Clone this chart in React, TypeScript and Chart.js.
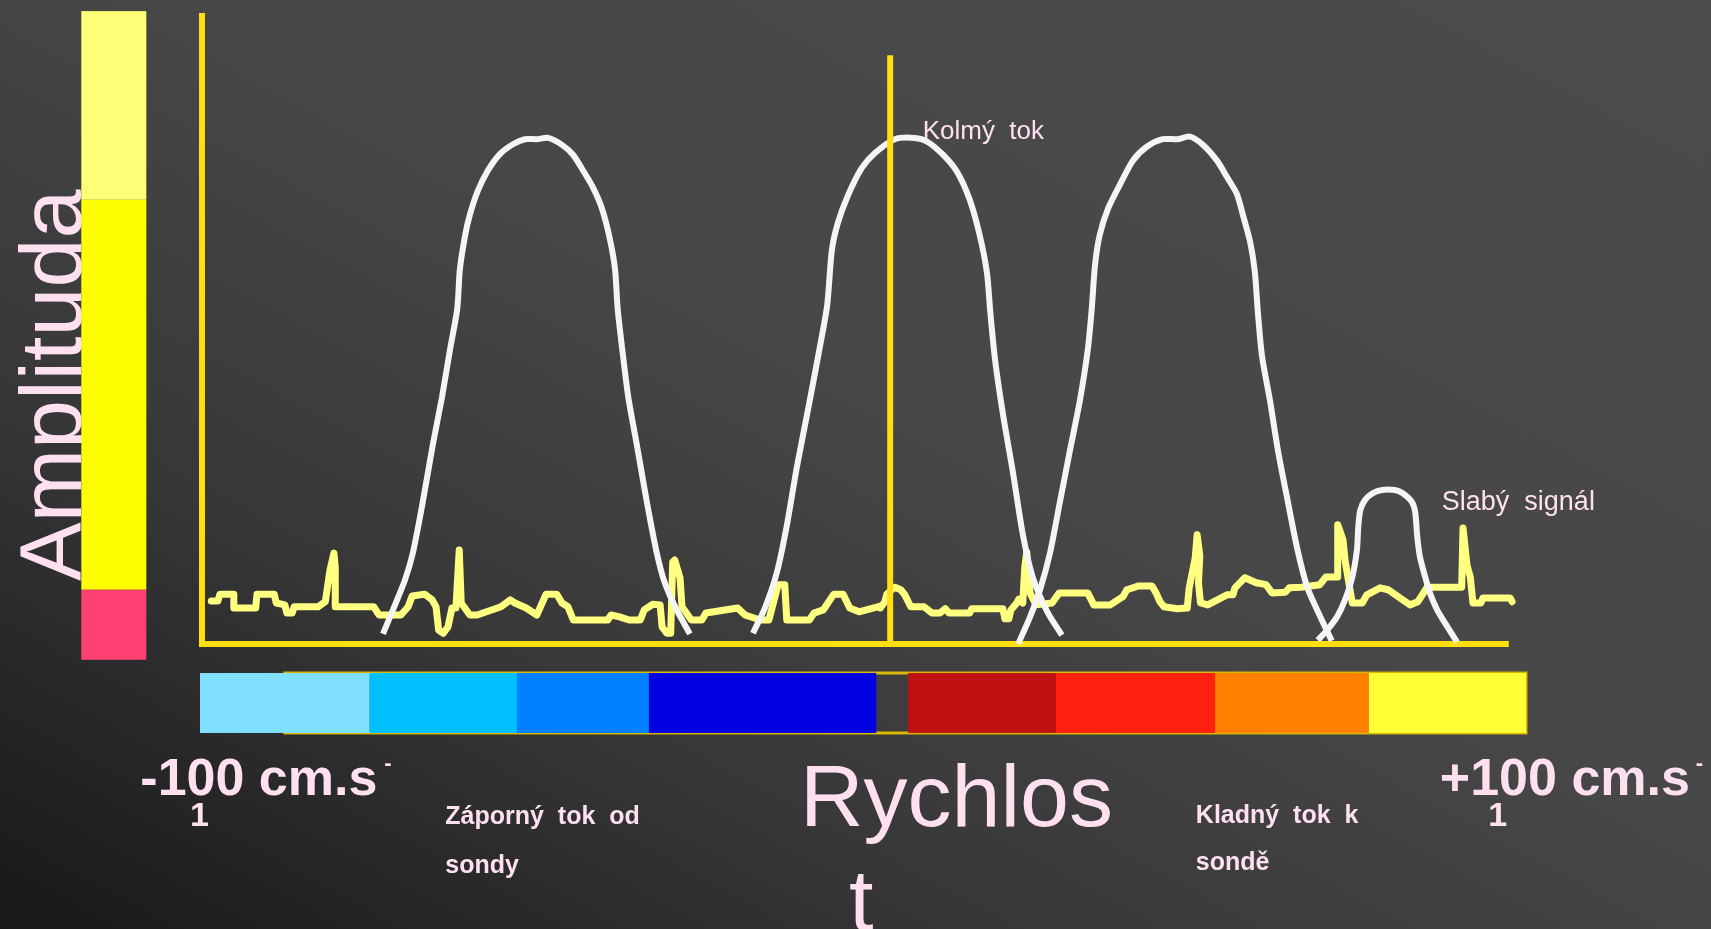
import { useEffect, useRef } from "react";
import { Chart, registerables } from "chart.js";

Chart.register(...registerables);

type P = [number, number];

// x = velocity (cm/s, -100..+100), y = relative amplitude (0..100)
const curveNegative: P[] = [
  [-72.4, 1.6], [-70.9, 5.4], [-69.1, 10.1], [-67.9, 14.4], [-66.4, 22.5], [-64.9, 31.5], [-63.5, 39.1],
  [-62.3, 46.6], [-61.2, 53.1], [-60.8, 59.4], [-60.0, 64.8], [-59.3, 68.0], [-58.1, 71.8], [-56.6, 75.0],
  [-54.8, 77.6], [-52.8, 79.2], [-51.0, 80.0], [-49.2, 80.0], [-47.5, 80.2], [-45.4, 79.1], [-43.7, 77.5],
  [-42.2, 75.0], [-40.7, 72.3], [-39.4, 69.1], [-38.2, 64.3], [-37.4, 59.4], [-37.0, 53.1], [-36.3, 46.6],
  [-35.4, 39.1], [-34.1, 31.5], [-32.6, 22.5], [-31.1, 14.4], [-29.9, 9.7], [-28.1, 5.4], [-26.1, 1.6],
];

const curvePerpendicular: P[] = [
  [-16.6, 1.7], [-14.8, 5.7], [-13.0, 11.3], [-11.5, 18.7], [-10.0, 27.9], [-8.3, 37.1], [-6.5, 47.1],
  [-5.4, 53.7], [-4.7, 62.4], [-3.8, 66.7], [-2.3, 71.0], [-0.2, 75.4], [1.8, 77.8], [4.8, 80.0],
  [7.8, 80.2], [9.7, 79.6], [12.1, 77.5], [14.2, 74.8], [16.1, 70.4], [17.6, 64.8], [18.7, 58.8],
  [19.2, 52.6], [19.9, 45.2], [21.1, 36.5], [22.6, 27.3], [24.1, 17.4], [25.6, 10.6], [27.8, 5.1], [30.0, 1.4],
];

const curvePositive: P[] = [
  [23.4, 0.0], [25.2, 4.3], [26.7, 8.6], [28.2, 14.4], [29.7, 22.5], [31.2, 30.6], [32.7, 38.5],
  [33.9, 46.6], [34.5, 53.1], [35.0, 60.1], [35.7, 64.8], [37.0, 69.1], [38.8, 72.9], [40.7, 76.6],
  [42.8, 78.8], [45.2, 80.0], [47.4, 80.0], [49.3, 80.4], [51.3, 79.1], [53.4, 76.6], [54.9, 74.0],
  [56.4, 71.3], [57.3, 68.0], [58.4, 63.7], [59.1, 59.0], [59.6, 52.0], [60.2, 45.5], [61.4, 38.5],
  [62.6, 30.6], [64.0, 23.0], [65.5, 15.1], [67.0, 9.0], [68.5, 5.4], [70.7, 0.5],
];

const curveWeak: P[] = [
  [68.6, 0.6], [70.0, 2.2], [71.5, 4.3], [72.7, 7.0], [73.8, 10.6], [74.5, 14.9], [74.7, 18.5],
  [75.0, 21.2], [75.7, 22.8], [76.9, 23.9], [78.3, 24.4], [80.2, 24.4], [81.4, 23.9], [82.8, 22.5],
  [83.3, 20.8], [83.6, 17.0], [84.0, 13.8], [84.8, 10.6], [85.5, 8.1], [86.6, 5.4], [87.8, 3.3], [89.6, 0.3],
];

const noiseTrace: P[] = [
  [-98.3, 6.8], [-97.3, 6.8], [-97.0, 7.9], [-94.9, 7.9], [-94.9, 5.7], [-91.6, 5.7], [-91.4, 7.9],
  [-88.8, 7.9], [-88.5, 6.5], [-87.2, 6.2], [-86.9, 4.9], [-86.1, 4.9], [-85.8, 5.9], [-82.2, 5.9],
  [-81.1, 6.7], [-80.4, 11.7], [-79.8, 14.4], [-79.6, 12.2], [-79.6, 5.9], [-73.8, 5.9], [-73.0, 4.6],
  [-69.7, 4.6], [-68.6, 5.9], [-68.0, 7.6], [-66.1, 7.9], [-65.0, 7.0], [-64.4, 5.9], [-64.0, 2.2],
  [-63.3, 1.7], [-62.6, 2.7], [-62.0, 5.7], [-61.4, 5.7], [-60.9, 14.9], [-60.6, 6.5], [-59.3, 4.6],
  [-58.2, 4.6], [-54.6, 5.9], [-53.2, 7.0], [-52.5, 6.5], [-50.8, 5.7], [-49.2, 4.6], [-47.8, 7.9],
  [-46.2, 7.9], [-45.4, 6.5], [-44.5, 5.9], [-43.7, 3.8], [-43.1, 3.8], [-38.5, 3.8], [-38.0, 4.6],
  [-36.7, 4.3], [-35.3, 3.8], [-33.6, 3.8], [-33.0, 5.4], [-31.7, 6.3], [-30.6, 6.2], [-30.3, 2.7],
  [-29.6, 1.7], [-29.0, 1.7], [-28.7, 13.0], [-28.4, 13.3], [-27.6, 10.5], [-27.3, 5.9], [-25.9, 3.8],
  [-24.3, 3.8], [-23.7, 4.9], [-18.9, 5.7], [-17.8, 4.6], [-15.5, 3.8], [-14.2, 3.8], [-12.8, 9.4],
  [-11.8, 9.4], [-11.5, 3.8], [-8.1, 3.8], [-7.4, 4.9], [-6.0, 5.4], [-4.4, 7.9], [-3.0, 7.9],
  [-2.0, 5.7], [-0.6, 5.1], [2.6, 6.0], [2.6, 5.7], [3.3, 6.7], [3.6, 7.9], [4.8, 9.0], [5.7, 8.6],
  [6.3, 7.8], [7.2, 5.9], [9.2, 5.9], [10.4, 4.9], [11.6, 4.9], [12.4, 5.6], [13.0, 4.9], [16.1, 4.9],
  [16.4, 5.6], [21.1, 5.6], [21.4, 4.0], [22.0, 4.0], [22.3, 5.4], [23.2, 6.5], [23.5, 7.1], [24.1, 6.5],
  [24.4, 12.2], [24.7, 14.6], [25.2, 8.1], [26.1, 6.2], [28.5, 6.5], [29.6, 8.1], [33.9, 8.1],
  [34.8, 6.2], [37.3, 6.2], [39.2, 7.5], [39.8, 8.6], [41.6, 9.2], [43.6, 9.2], [44.2, 8.1], [44.8, 6.7],
  [45.4, 5.9], [47.4, 5.6], [48.9, 5.7], [49.2, 8.9], [50.1, 13.6], [50.4, 17.3], [50.8, 14.0],
  [50.6, 9.7], [50.9, 6.5], [52.0, 6.2], [54.9, 7.8], [55.8, 7.8], [56.1, 8.9], [57.6, 10.5],
  [59.3, 9.7], [60.8, 9.4], [61.7, 8.1], [63.7, 8.2], [64.3, 8.9], [66.1, 9.0], [68.9, 9.4],
  [69.8, 10.6], [71.6, 10.6], [71.6, 18.9], [72.4, 16.5], [72.7, 13.3], [73.8, 6.5], [75.3, 6.5],
  [76.0, 7.8], [78.0, 8.9], [79.2, 8.6], [82.5, 6.2], [83.7, 6.7], [85.1, 9.0], [87.0, 9.0],
  [90.3, 9.0], [90.5, 18.4], [91.1, 12.5], [91.6, 10.6], [92.0, 6.5], [93.2, 6.5], [93.5, 7.3],
  [97.6, 7.3], [97.9, 6.7],
];

const axisFrame: P[] = [[-99.7, 100], [-99.7, 0], [97.4, 0]];
const perpendicularMarker: P[] = [[4.1, 93.3], [4.1, 0]];

// colour scale bar: velocity segments
const colorBarStart = [-100, -74.4, -52.2, -32.3, 6.8, 29.1, 53.1, 76.3];
const colorBarEnd = [-74.4, -50.2, -30.2, 2.0, 29.1, 53.1, 76.3, 100];
const colorBarColors = ["#80e0ff", "#00c0ff", "#0080ff", "#0000e0", "#c01010", "#ff2010", "#ff8000", "#ffff33"];
const colorBarOutline = [-87.2, 100];
const colorBarLevel = [-4.6, -14.1];

// amplitude bar: level bands
const ampBarTop = [100.3, 70.4, 8.6];
const ampBarBottom = [70.4, 8.6, -2.5];
const ampBarColors = ["#ffff77", "#ffff00", "#ff4070"];
const ampBarVelocity = [-117.9, -108.1];

const FONT = '"Liberation Sans", Arial, sans-serif';
const TEXT = "#ffe0f0";

const axisTitle = { text: "Amplituda", v: -117.9, a: 41.0, font: `88px ${FONT}` };

const annotations = [
  { text: "Kolmý  tok", v: 9.0, a: 80.0, font: `26px ${FONT}` },
  { text: "Slabý  signál", v: 87.3, a: 21.2, font: `27px ${FONT}` },
  { text: "-100 cm.s", v: -109.0, a: -23.9, font: `bold 52px ${FONT}` },
  { text: "-", v: -72.2, a: -20.0, font: `bold 22px ${FONT}` },
  { text: "1", v: -101.5, a: -28.8, font: `bold 34px ${FONT}` },
  { text: "+100 cm.s", v: 87.0, a: -23.9, font: `bold 52px ${FONT}` },
  { text: "-", v: 125.6, a: -20.0, font: `bold 22px ${FONT}` },
  { text: "1", v: 94.3, a: -28.8, font: `bold 34px ${FONT}` },
  { text: "Záporný  tok  od", v: -63.0, a: -28.5, font: `bold 25px ${FONT}` },
  { text: "sondy", v: -63.0, a: -36.3, font: `bold 25px ${FONT}` },
  { text: "Rychlos", v: -9.5, a: -28.8, font: `88px ${FONT}` },
  { text: "t", v: -2.1, a: -45.3, font: `88px ${FONT}` },
  { text: "Kladný  tok  k", v: 50.2, a: -28.4, font: `bold 25px ${FONT}` },
  { text: "sondě", v: 50.2, a: -35.8, font: `bold 25px ${FONT}` },
];

const toXY = (pts: P[]) => pts.map(([x, y]) => ({ x, y }));

const decorPlugin = {
  id: "decor",
  beforeDatasetsDraw(chart: any) {
    const { ctx } = chart;
    const xs = chart.scales.x;
    const ys = chart.scales.y;
    ctx.save();
    // vertical axis title (under the amplitude bar)
    ctx.save();
    ctx.fillStyle = TEXT;
    ctx.font = axisTitle.font;
    ctx.textAlign = "center";
    ctx.textBaseline = "alphabetic";
    ctx.translate(xs.getPixelForValue(axisTitle.v), ys.getPixelForValue(axisTitle.a));
    ctx.rotate(-Math.PI / 2);
    ctx.fillText(axisTitle.text, 0, 0);
    ctx.restore();
    // colour bar outline
    const ox1 = xs.getPixelForValue(colorBarOutline[0]);
    const ox2 = xs.getPixelForValue(colorBarOutline[1]);
    const oy1 = ys.getPixelForValue(colorBarLevel[0]);
    const oy2 = ys.getPixelForValue(colorBarLevel[1]);
    ctx.strokeStyle = "#d8b800";
    ctx.lineWidth = 3;
    ctx.strokeRect(ox1, oy1, ox2 - ox1, oy2 - oy1);
    for (let i = 0; i < colorBarColors.length; i++) {
      const x1 = xs.getPixelForValue(colorBarStart[i]);
      const x2 = xs.getPixelForValue(colorBarEnd[i]);
      ctx.fillStyle = colorBarColors[i];
      ctx.fillRect(x1, oy1, x2 - x1, oy2 - oy1);
    }
    // amplitude bar
    const ax1 = xs.getPixelForValue(ampBarVelocity[0]);
    const ax2 = xs.getPixelForValue(ampBarVelocity[1]);
    for (let i = 0; i < ampBarColors.length; i++) {
      const y1 = ys.getPixelForValue(ampBarTop[i]);
      const y2 = ys.getPixelForValue(ampBarBottom[i]);
      ctx.fillStyle = ampBarColors[i];
      ctx.fillRect(ax1, y1, ax2 - ax1, y2 - y1);
    }
    ctx.restore();
  },
  afterDatasetsDraw(chart: any) {
    const { ctx } = chart;
    const xs = chart.scales.x;
    const ys = chart.scales.y;
    ctx.save();
    ctx.fillStyle = TEXT;
    ctx.textBaseline = "alphabetic";
    ctx.textAlign = "left";
    for (const an of annotations) {
      ctx.font = an.font;
      ctx.fillText(an.text, xs.getPixelForValue(an.v), ys.getPixelForValue(an.a));
    }
    ctx.restore();
  },
};

export default function App() {
  const ref = useRef<HTMLCanvasElement | null>(null);
  useEffect(() => {
    if (!ref.current) return;
    const white = { borderColor: "#f5f5f5", borderWidth: 6, pointRadius: 0, tension: 0.25, clip: false as any, order: 2, borderCapStyle: "butt" as const };
    const chart = new Chart(ref.current, {
      type: "line",
      data: {
        datasets: [
          { label: "Kolmý tok", data: toXY(perpendicularMarker), borderColor: "#ffdf10", borderWidth: 6, pointRadius: 0, clip: false as any, order: 1 },
          { label: "Záporný tok", data: toXY(curveNegative), ...white },
          { label: "Kolmý", data: toXY(curvePerpendicular), ...white },
          { label: "Kladný tok", data: toXY(curvePositive), ...white },
          { label: "Slabý signál", data: toXY(curveWeak), ...white },
          { label: "Šum", data: toXY(noiseTrace), borderColor: "#ffff80", borderWidth: 7, pointRadius: 0, tension: 0, clip: false as any, order: 3, borderJoinStyle: "round", borderCapStyle: "round" },
          { label: "Osy", data: toXY(axisFrame), borderColor: "#ffdf10", borderWidth: 6, pointRadius: 0, tension: 0, clip: false as any, order: 4, borderJoinStyle: "miter" },
        ],
      },
      options: {
        animation: false,
        responsive: false,
        devicePixelRatio: 1,
        events: [],
        layout: { padding: { left: 200, right: 185, top: 13, bottom: 285 } },
        plugins: { legend: { display: false }, tooltip: { enabled: false } },
        scales: {
          x: { type: "linear", min: -100, max: 100, display: false },
          y: { type: "linear", min: 0, max: 100, display: false },
        },
      },
      plugins: [decorPlugin],
    });
    return () => chart.destroy();
  }, []);

  return (
    <div
      style={{
        position: "fixed",
        left: 0,
        top: 0,
        width: 1711,
        height: 929,
        overflow: "hidden",
        background: "linear-gradient(to top right, #181818 0%, #383838 30%, #474747 55%, #4b4b4b 100%)",
      }}
    >
      <canvas ref={ref} width={1711} height={929} style={{ display: "block", width: 1711, height: 929 }} />
    </div>
  );
}
